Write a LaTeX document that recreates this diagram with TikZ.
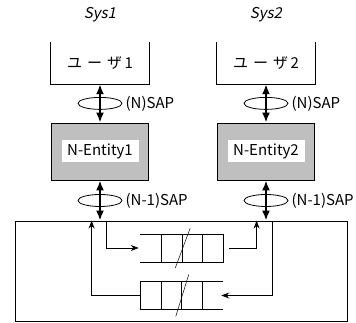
\documentclass[tikz,border=0pt]{standalone}
\usepackage{fontspec}
\setmainfont{Noto Sans CJK JP}
\newfontfamily\sysfont[FakeSlant=0.2]{Noto Sans CJK JP}
\usetikzlibrary{arrows.meta,positioning,calc,shapes.geometric}

\begin{document}
\begin{tikzpicture}[x=1pt, y=1pt,
  font=\fontsize{15}{17}\selectfont,
  syslabel/.style={font=\sysfont\fontsize{15}{17}\selectfont},
  userbox/.style={minimum width=98pt, minimum height=42pt, inner sep=0pt},
  entity/.style={draw, line width=0.8pt, fill=black!25, minimum width=97pt, minimum height=57pt, inner sep=0pt},
  entlabel/.style={fill=white, minimum width=77pt, minimum height=22pt, inner sep=0pt},
  sap/.style={draw, ellipse, line width=0.8pt, minimum width=44pt, minimum height=12pt, inner sep=0pt},
  saplabel/.style={anchor=west, inner sep=0pt},
  cell/.style={draw, line width=0.8pt, minimum width=20.5pt, minimum height=28pt, inner sep=0pt, outer sep=0pt},
  dbl/.style={{Latex[length=10pt,width=8pt]}-{Latex[length=10pt,width=8pt]}, line width=2.5pt},
  arr/.style={-{Stealth[length=8pt,width=6pt]}, line width=0.9pt}]
\useasboundingbox (0,0) rectangle (356,323);
% systems
\node[syslabel] (sys1) at (100,308) {Sys1};
\node[syslabel] (sys2) at (266,308) {Sys2};
% users (open at the top)
\node[userbox] (user1) at (100,260) {ユ\,\,ー\,\,ザ\,1};
\node[userbox] (user2) at (266,260) {ユ\,\,ー\,\,ザ\,2};
\draw[line width=0.8pt] (user1.north west) |- (user1.south east) -- (user1.north east);
\draw[line width=0.8pt] (user2.north west) |- (user2.south east) -- (user2.north east);
% entities
\node[entity] (ent1) at (100,171.5) {};
\node[entity] (ent2) at (266,171.5) {};
\node[entlabel] (ent1txt) at (ent1) {N-Entity1};
\node[entlabel] (ent2txt) at (ent2) {N-Entity2};
% lower layer
\node[draw, line width=0.8pt, minimum width=332pt, minimum height=100pt, inner sep=0pt] (net) at (181,52) {};
% service access points
\node[sap] (nsap1) at ($(user1.south)!0.5!(ent1.north)$) {};
\node[sap] (nsap2) at ($(user2.south)!0.5!(ent2.north)$) {};
\node[sap] (msap1) at ($(ent1.south)!0.5!(ent1.south |- net.north)$) {};
\node[sap] (msap2) at ($(ent2.south)!0.5!(ent2.south |- net.north)$) {};
\node[saplabel] (nsap1txt) at ([xshift=3pt]nsap1.east) {(N)SAP};
\node[saplabel] (nsap2txt) at ([xshift=3pt]nsap2.east) {(N)SAP};
\node[saplabel] (msap1txt) at ([xshift=3pt]msap1.east) {(N-1)SAP};
\node[saplabel] (msap2txt) at ([xshift=3pt]msap2.east) {(N-1)SAP};
\draw[dbl] (user1.south) -- (ent1.north);
\draw[dbl] (user2.south) -- (ent2.north);
\draw[dbl] (ent1.south) -- (ent1.south |- net.north);
\draw[dbl] (ent2.south) -- (ent2.south |- net.north);
% queue 1 (open on the left)
\node[cell] (q1a) at (172,75) {};
\node[cell, right=0pt of q1a] (q1b) {};
\node[cell, right=0pt of q1b] (q1c) {};
\draw[line width=0.8pt] (q1a.north west) -- ++(-22,0);
\draw[line width=0.8pt] (q1a.south west) -- ++(-22,0);
\draw[line width=0.5pt] ([shift={(-7pt,-20pt)}]q1a.east) -- ([shift={(8pt,20pt)}]q1a.east);
% queue 2 (open on the right)
\node[cell] (q2a) at (151,27.5) {};
\node[cell, right=0pt of q2a] (q2b) {};
\node[cell, right=0pt of q2b] (q2c) {};
\draw[line width=0.8pt] (q2c.north east) -- ++(21,0);
\draw[line width=0.8pt] (q2c.south east) -- ++(21,0);
\draw[line width=0.5pt] ([shift={(-6pt,-21pt)}]q2b.east) -- ([shift={(7pt,21pt)}]q2b.east);
% arrow ends
\coordinate (q1in)  at ([xshift=-22pt]q1a.west);
\coordinate (q1out) at ([xshift=6pt]q1c.east);
\coordinate (q2in)  at ([xshift=21pt]q2c.east);
\coordinate (a1) at ($(net.north west)+(92,0)$);
\coordinate (b1) at ($(net.north west)+(242,0)$);
\coordinate (c1) at ($(net.north west)+(258,0)$);
\coordinate (d1) at ($(net.north west)+(77,0)$);
% arrows
\draw[arr, shorten >=1pt] (a1) |- (q1in);
\draw[arr] (q1out) -| (b1);
\draw[arr, shorten >=-2pt] (c1) |- (q2in);
\draw[arr] (q2a.west) -| (d1);
\end{tikzpicture}
\end{document}
